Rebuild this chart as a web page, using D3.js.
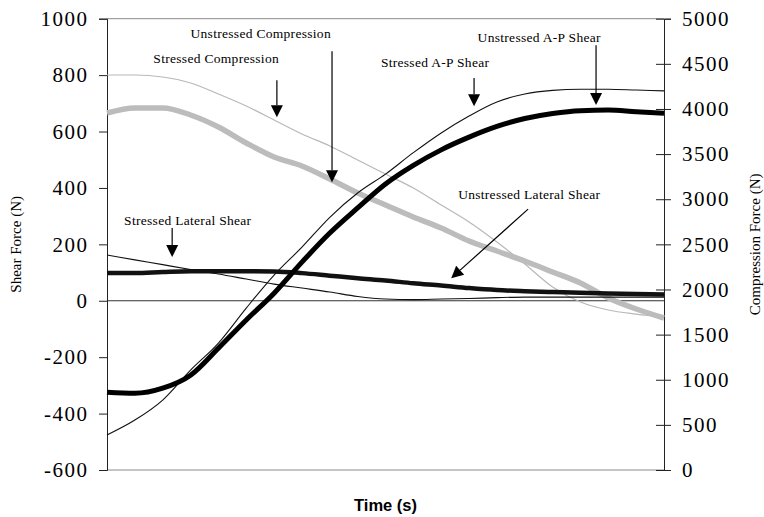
<!DOCTYPE html>
<html>
<head>
<meta charset="utf-8">
<script src="https://cdn.jsdelivr.net/npm/d3@7"></script>
<style>
  html, body { margin: 0; padding: 0; background: #fff; }
  svg { display: block; }
  .serif { font-family: 'Liberation Serif', 'Times New Roman', serif; }
  .tick-label { font-family: 'Liberation Serif', 'Times New Roman', serif; font-size: 21px; letter-spacing: 1.5px; fill: #000; }
</style>
</head>
<body>
<svg id="chart" width="764" height="517"></svg>
<script>
// Sample times (percent of the movement) shared by every series
const time = [0, 5, 10, 15, 20, 25, 30, 35, 40, 45, 50, 55, 60, 65, 70, 75, 80, 85, 90, 95, 100];

// Shear forces (N), left axis
const unstressedAPShear = [-324, -328, -310, -264, -168, -68, 27, 137, 240, 329, 414, 480, 535, 580, 618, 646, 664, 674, 676, 670, 665];
const stressedAPShear = [-476, -423, -352, -246, -150, -26, 91, 190, 296, 382, 449, 525, 595, 655, 705, 733, 746, 750, 750, 747, 744];
const unstressedLateralShear = [98, 98, 102, 105, 105, 105, 104, 98, 89, 80, 72, 62, 54, 45, 38, 34, 31, 28, 26, 24, 22];
const stressedLateralShear = [162, 145, 128, 111, 95, 77, 59, 45, 31, 15, 6, 4, 6, 8, 11, 13, 13, 13, 13, 13, 13];

// Compression forces (N), right axis
const unstressedCompression = [3955, 4011, 4011, 3933, 3800, 3623, 3468, 3368, 3224, 3069, 2936, 2803, 2681, 2537, 2426, 2315, 2194, 2072, 1906, 1784, 1684];
const stressedCompression = [4376, 4376, 4354, 4288, 4166, 4033, 3878, 3723, 3590, 3434, 3279, 3124, 2936, 2748, 2526, 2282, 2027, 1861, 1773, 1728, 1695];

// Axis ticks
const shearTicks = [-600, -400, -200, 0, 200, 400, 600, 800, 1000];
const compressionTicks = [0, 500, 1000, 1500, 2000, 2500, 3000, 3500, 4000, 4500, 5000];

// Callouts: label position and arrow (from -> tip) in data units (time, shear N)
const calloutLabels = ["Unstressed Compression", "Stressed Compression", "Stressed A-P Shear", "Unstressed A-P Shear", "Unstressed Lateral Shear", "Stressed Lateral Shear"];
const calloutLabelAt = [[27.6, 949], [19.6, 860], [58.9, 843], [77.6, 935], [75.8, 375], [14.5, 286]];
const calloutArrowFrom = [[40.4, 885], [30.5, 782], [65.9, 790], [87.8, 906], [75.6, 325], [11.7, 258]];
const calloutArrowTo = [[40.4, 420], [30.5, 651], [65.9, 690], [87.8, 694], [61.8, 80], [11.7, 155]];

const svg = d3.select("#chart");
const plotLeft = 107, plotRight = 664, plotTop = 18.7, plotBottom = 470;

const x = d3.scaleLinear().domain([0, 100]).range([plotLeft, plotRight]);
const yShear = d3.scaleLinear().domain([-600, 1000]).range([plotBottom, plotTop]);
const yComp = d3.scaleLinear().domain([0, 5000]).range([plotBottom, plotTop]);

const plainNumber = d => String(d);

// Plot frame: top and bottom rules
svg.append("line").attr("x1", plotLeft).attr("x2", plotRight).attr("y1", plotTop).attr("y2", plotTop)
  .attr("stroke", "#8a8a8a").attr("stroke-width", 1);
svg.append("line").attr("x1", plotLeft).attr("x2", plotRight).attr("y1", plotBottom).attr("y2", plotBottom)
  .attr("stroke", "#8a8a8a").attr("stroke-width", 1);

// Zero shear reference line
svg.append("line").attr("x1", plotLeft).attr("x2", plotRight)
  .attr("y1", yShear(0)).attr("y2", yShear(0))
  .attr("stroke", "#333").attr("stroke-width", 1);

// Left axis
const leftAxis = svg.append("g").attr("transform", `translate(${plotLeft},0)`)
  .call(d3.axisLeft(yShear).tickValues(shearTicks).tickSize(8).tickPadding(10.5).tickFormat(plainNumber));
leftAxis.attr("font-size", null).attr("font-family", null);
leftAxis.select(".domain").attr("stroke", "#222");
leftAxis.selectAll(".tick line").attr("stroke", "#222");
leftAxis.selectAll(".tick text").attr("class", "tick-label").attr("fill", null);

// Right axis with crossing ticks
const rightAxis = svg.append("g").attr("transform", `translate(${plotRight},0)`)
  .call(d3.axisRight(yComp).tickValues(compressionTicks).tickSize(7).tickPadding(11).tickFormat(plainNumber));
rightAxis.attr("font-size", null).attr("font-family", null);
rightAxis.select(".domain").attr("stroke", "#222");
rightAxis.selectAll(".tick line").attr("stroke", "#222").attr("x1", -8).attr("x2", 7);
rightAxis.selectAll(".tick text").attr("class", "tick-label").attr("fill", null);

// Axis titles
svg.append("text").attr("class", "serif")
  .attr("transform", `translate(16,${(plotTop + plotBottom) / 2}) rotate(-90)`)
  .attr("text-anchor", "middle").attr("dominant-baseline", "central")
  .style("font-size", "15px").text("Shear Force (N)");
svg.append("text").attr("class", "serif")
  .attr("transform", `translate(755,${(plotTop + plotBottom) / 2}) rotate(-90)`)
  .attr("text-anchor", "middle").attr("dominant-baseline", "central")
  .style("font-size", "15px").text("Compression Force (N)");
svg.append("text")
  .attr("x", (plotLeft + plotRight) / 2).attr("y", 505)
  .attr("text-anchor", "middle").attr("dominant-baseline", "central")
  .style("font-family", "'Liberation Sans', Arial, sans-serif").style("font-weight", "bold")
  .style("font-size", "16.5px").text("Time (s)");

// Series lines
const shearLine = d3.line().x((d, i) => x(time[i])).y(d => yShear(d)).curve(d3.curveMonotoneX);
const compLine = d3.line().x((d, i) => x(time[i])).y(d => yComp(d)).curve(d3.curveMonotoneX);

const plot = svg.append("g").attr("fill", "none").attr("stroke-linejoin", "round");

plot.append("path").datum(stressedCompression).attr("d", compLine)
  .attr("stroke", "#b8b8b8").attr("stroke-width", 1.2);
plot.append("path").datum(unstressedCompression).attr("d", compLine)
  .attr("stroke", "#bcbcbc").attr("stroke-width", 5.5);
plot.append("path").datum(stressedLateralShear).attr("d", shearLine)
  .attr("stroke", "#111").attr("stroke-width", 1.1);
plot.append("path").datum(unstressedLateralShear).attr("d", shearLine)
  .attr("stroke", "#111").attr("stroke-width", 4.5);
plot.append("path").datum(stressedAPShear).attr("d", shearLine)
  .attr("stroke", "#111").attr("stroke-width", 1.1);
plot.append("path").datum(unstressedAPShear).attr("d", shearLine)
  .attr("stroke", "#000").attr("stroke-width", 5);

// Callouts: labels and arrows
const notes = svg.append("g");
calloutLabels.forEach((label, i) => {
  const [lt, lv] = calloutLabelAt[i];
  notes.append("text").attr("class", "serif")
    .attr("x", x(lt)).attr("y", yShear(lv))
    .attr("text-anchor", "middle").attr("dominant-baseline", "central")
    .style("font-size", "13.5px").style("letter-spacing", "0.3px").text(label);

  const x0 = x(calloutArrowFrom[i][0]), y0 = yShear(calloutArrowFrom[i][1]);
  const x1 = x(calloutArrowTo[i][0]), y1 = yShear(calloutArrowTo[i][1]);
  const ang = Math.atan2(y1 - y0, x1 - x0);
  const headLen = 12, headHalf = 6;
  const bx = x1 - headLen * Math.cos(ang), by = y1 - headLen * Math.sin(ang);
  notes.append("line")
    .attr("x1", x0).attr("y1", y0).attr("x2", bx).attr("y2", by)
    .attr("stroke", "#000").attr("stroke-width", 1.2);
  const px = -Math.sin(ang), py = Math.cos(ang);
  notes.append("path")
    .attr("d", `M${x1},${y1}L${bx + px * headHalf},${by + py * headHalf}L${bx - px * headHalf},${by - py * headHalf}Z`)
    .attr("fill", "#000");
});
</script>
</body>
</html>
